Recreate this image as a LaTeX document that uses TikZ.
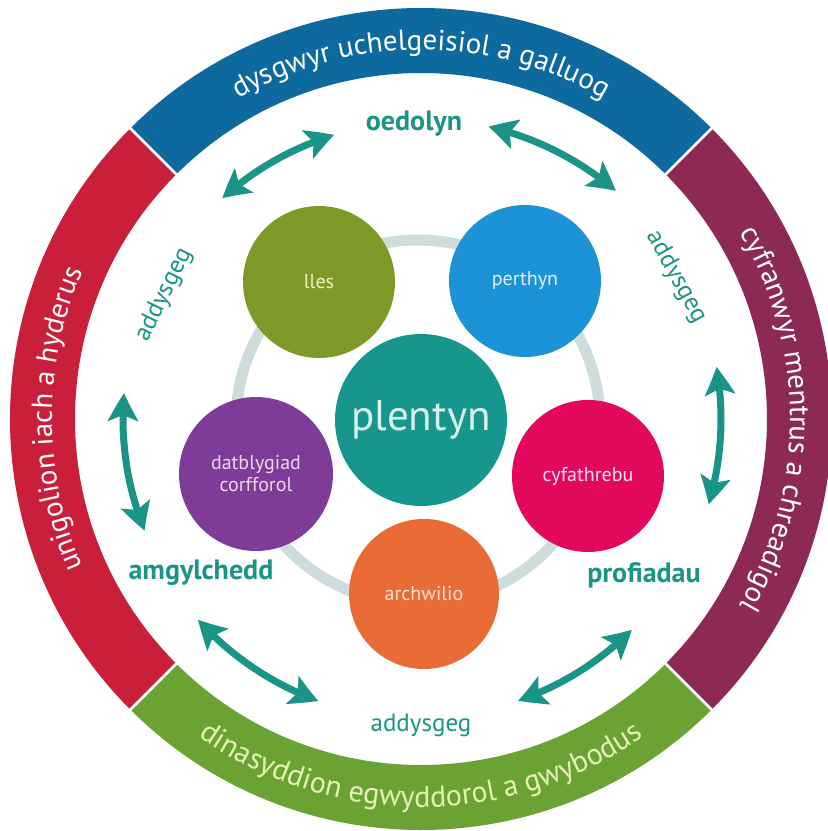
\documentclass[tikz,border=0pt]{standalone}
\usepackage{fontspec}
\setmainfont{PT Sans}
\usetikzlibrary{decorations.text,arrows.meta,bending}
\definecolor{ringblue}{RGB}{14,106,158}
\definecolor{ringred}{RGB}{201,31,58}
\definecolor{ringmaroon}{RGB}{140,42,85}
\definecolor{ringgreen}{RGB}{106,163,51}
\definecolor{bottomtext}{RGB}{230,242,181}
\definecolor{tealc}{RGB}{26,148,135}
\definecolor{plentync}{RGB}{22,150,140}
\definecolor{llesc}{RGB}{125,154,38}
\definecolor{perthync}{RGB}{27,147,214}
\definecolor{datc}{RGB}{126,59,151}
\definecolor{cyfc}{RGB}{226,8,94}
\definecolor{archc}{RGB}{233,107,53}
\definecolor{grayring}{RGB}{207,220,220}
\tikzset{
  circ/.style={circle, inner sep=0pt, align=center, font=\fontsize{20}{22}\selectfont},
  tlabel/.style={text=tealc, font=\bfseries\fontsize{28}{30}\selectfont},
  ped/.style={text=tealc, font=\fontsize{25}{27}\selectfont},
  twoway/.style={tealc, line width=7pt, {Stealth[length=28pt,width=30pt,inset=6pt,bend]}-{Stealth[length=28pt,width=30pt,inset=6pt,bend]}},
  sep/.style={white, line width=2.5pt}
}
\begin{document}
\begin{tikzpicture}[x=1pt,y=1pt]
\useasboundingbox (-421,-412) rectangle (407,419);
\fill[white] (-421,-412) rectangle (407,419);
% outer ring
\fill[ringblue] (45:411) arc[start angle=45,end angle=135,radius=411] -- (135:346) arc[start angle=135,end angle=45,radius=346] -- cycle;
\fill[ringred] (135:411) arc[start angle=135,end angle=225,radius=411] -- (225:346) arc[start angle=225,end angle=135,radius=346] -- cycle;
\fill[ringgreen] (225:411) arc[start angle=225,end angle=315,radius=411] -- (315:346) arc[start angle=315,end angle=225,radius=346] -- cycle;
\fill[ringmaroon] (-45:411) arc[start angle=-45,end angle=45,radius=411] -- (45:346) arc[start angle=45,end angle=-45,radius=346] -- cycle;
\foreach \a in {45,135,225,315} \draw[sep] (\a:341) -- (\a:416);
% ring texts
\path[decorate,decoration={text along path,text align=center,text color=white,
  text={|\fontsize{29}{32}\selectfont|dysgwyr uchelgeisiol a galluog}}]
  (170:369) arc[start angle=170,end angle=10,radius=369];
\path[decorate,decoration={text along path,text align=center,text color=white,
  text={|\fontsize{29}{32}\selectfont|unigolion iach a hyderus}}]
  (240:369) arc[start angle=240,end angle=120,radius=369];
\path[decorate,decoration={text along path,text align=center,text color=white,
  text={|\fontsize{29}{32}\selectfont|cyfranwyr mentrus a chreadigol}}]
  (60:369) arc[start angle=60,end angle=-60,radius=369];
\path[decorate,decoration={text along path,text align=center,text color=bottomtext,
  text={|\fontsize{30}{32}\selectfont|dinasyddion egwyddorol a gwybodus}}]
  (195:388) arc[start angle=195,end angle=345,radius=388];
% gray ring
\draw[grayring, line width=11pt] (-3,-3) circle[radius=182];
% circles
\node[circ, fill=plentync, minimum size=172pt, text={rgb,255:red,216;green,240;blue,236}, font=\fontsize{43}{46}\selectfont] (plentyn) at (0,-1) {plentyn};
\node[circ, fill=llesc, minimum size=152pt, text={rgb,255:red,240;green,240;blue,200}] (lles) at (-102,137) {lles};
\node[circ, fill=perthync, minimum size=152pt, text={rgb,255:red,225;green,240;blue,255}] (perthyn) at (104,138) {perthyn};
\node[circ, fill=datc, minimum size=154pt, text={rgb,255:red,240;green,215;blue,240}] (datblygiad) at (-165,-55) {datblygiad\\corfforol};
\node[circ, fill=cyfc, minimum size=152pt, text={rgb,255:red,255;green,225;blue,235}] (cyfathrebu) at (167,-57) {cyfathrebu};
\node[circ, fill=archc, minimum size=150pt, text={rgb,255:red,252;green,225;blue,210}] (archwilio) at (3,-175) {archwilio};
% teal labels
\node[tlabel] (oedolyn) at (-7,295) {oedolyn};
\node[tlabel] (amgylchedd) at (-220,-154) {amgylchedd};
\node[tlabel] (profiadau) at (223,-156) {profiadau};
\node[ped] (addB) at (0,-306) {addysgeg};
\node[ped, rotate=64] (addL) at (-257,124) {addysgeg};
\node[ped, rotate=-61] (addR) at (255,142) {addysgeg};
% arrows
\coordinate (a1) at (132:297);
\coordinate (a2) at (77:300);
\coordinate (a3) at (10:300);
\coordinate (a4) at (202:298);
\coordinate (a5) at (250:300);
\coordinate (a6) at (-45:298);
\draw[twoway] (a1) arc[start angle=132,end angle=107,radius=297];
\draw[twoway] (a2) arc[start angle=77,end angle=49.5,radius=300];
\draw[twoway] (a3) arc[start angle=10,end angle=-16.5,radius=300];
\draw[twoway] (a4) arc[start angle=202,end angle=175,radius=298];
\draw[twoway] (a5) arc[start angle=250,end angle=222,radius=300];
\draw[twoway] (a6) arc[start angle=-45,end angle=-71,radius=298];
\end{tikzpicture}
\end{document}
